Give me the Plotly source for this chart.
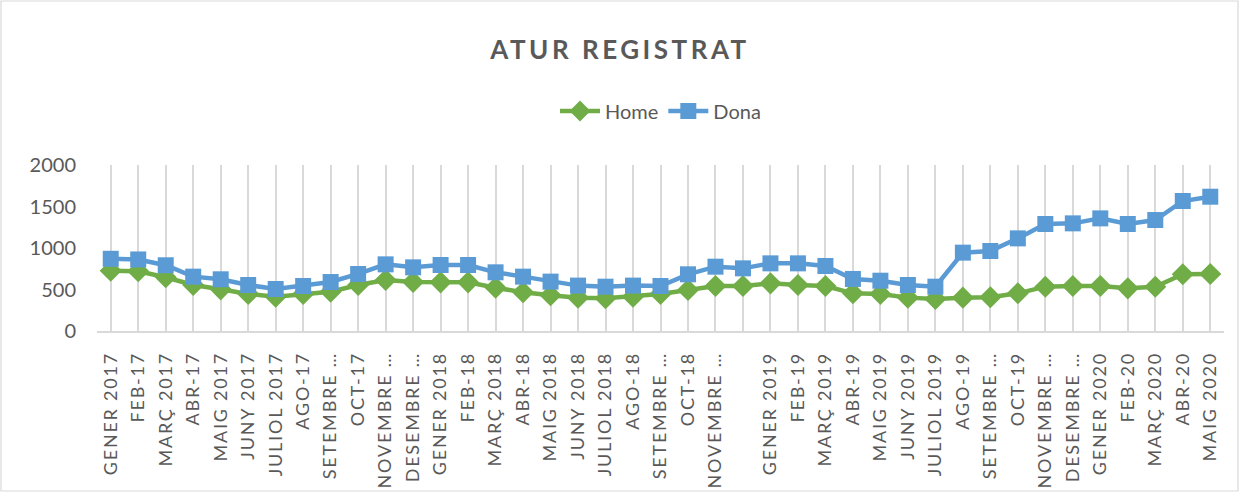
import plotly.graph_objects as go

months = [
    "GENER 2017", "FEB-17", "MARÇ 2017", "ABR-17", "MAIG 2017", "JUNY 2017", "JULIOL 2017",
    "AGO-17", "SETEMBRE …", "OCT-17", "NOVEMBRE …", "DESEMBRE …",
    "GENER 2018", "FEB-18", "MARÇ 2018", "ABR-18", "MAIG 2018", "JUNY 2018", "JULIOL 2018",
    "AGO-18", "SETEMBRE …", "OCT-18", "NOVEMBRE …", " ",
    "GENER 2019", "FEB-19", "MARÇ 2019", "ABR-19", "MAIG 2019", "JUNY 2019", "JULIOL 2019",
    "AGO-19", "SETEMBRE …", "OCT-19", "NOVEMBRE …", "DESEMBRE …",
    "GENER 2020", "FEB-20", "MARÇ 2020", "ABR-20", "MAIG 2020",
]

home = [
    725, 720, 647, 554, 502, 446, 414, 446, 474, 554, 614, 590,
    586, 586, 522, 466, 430, 402, 394, 414, 446, 494, 542, 542,
    574, 554, 542, 454, 446, 402, 386, 402, 406, 454, 534, 542,
    542, 514, 534, 683, 687,
]

dona = [
    870, 862, 792, 655, 623, 554, 506, 542, 590, 687, 803, 767,
    795, 795, 707, 655, 595, 547, 534, 547, 542, 683, 775, 755,
    815, 815, 783, 627, 606, 554, 534, 944, 964, 1116, 1289, 1297,
    1357, 1289, 1337, 1566, 1618,
]

x_idx = list(range(len(months)))
FONT = "Lato"
GREY = "#595959"

fig = go.Figure()
fig.add_trace(go.Scatter(
    x=x_idx, y=home, name="Home", mode="lines+markers",
    line=dict(color="#70AD47", width=4.5),
    marker=dict(symbol="diamond", size=17, color="#70AD47"),
))
fig.add_trace(go.Scatter(
    x=x_idx, y=dona, name="Dona", mode="lines+markers",
    line=dict(color="#5B9BD5", width=4.5),
    marker=dict(symbol="square", size=16, color="#5B9BD5"),
))

L, R, T, B = 97, 16, 165, 162
W, H = 1240, 493
pw, ph = W - L - R, H - T - B

fig.update_layout(
    width=W, height=H,
    margin=dict(l=L, r=R, t=T, b=B, autoexpand=False),
    paper_bgcolor="white", plot_bgcolor="white",
    font=dict(family=FONT, color=GREY, size=19),
    title=dict(text="<b>ATUR REGISTRAT</b>", x=0.5, xanchor="center",
               y=1 - 50 / H, yanchor="middle",
               font=dict(family=FONT, size=26, color=GREY)),
    legend=dict(orientation="h", x=0.5, xanchor="center",
                y=(H - B - 111) / ph, yanchor="middle",
                font=dict(family=FONT, size=20, color=GREY),
                itemwidth=40, traceorder="normal"),
    showlegend=True,
    xaxis=dict(
        tickmode="array", tickvals=x_idx, ticktext=months,
        range=[-0.5, len(months) - 0.5],
        tickangle=-90, tickson="boundaries", ticks="",
        showgrid=True, gridcolor="#d9d9d9", gridwidth=1.5,
        showline=True, linecolor="#d9d9d9", linewidth=1.5,
        tickfont=dict(family=FONT, size=18, color=GREY),
        ticklabelstandoff=12, automargin=False, zeroline=False,
    ),
    yaxis=dict(
        range=[0, 2000], dtick=500, showgrid=False, zeroline=False,
        showline=False, ticks="",
        tickfont=dict(family=FONT, size=20, color=GREY),
        ticklabelstandoff=20, automargin=False,
    ),
    shapes=[dict(
        type="rect", xref="paper", yref="paper",
        x0=(1 - L) / pw, x1=(W - 2 - L) / pw,
        y0=(H - B - (H - 2)) / ph, y1=(H - B - 1) / ph,
        line=dict(color="#d9d9d9", width=1.2), fillcolor="rgba(0,0,0,0)",
        layer="below",
    )],
)

js = """
var s=document.createElement('style');
s.innerHTML='html,body{margin:0;padding:0;overflow:hidden;} .xtick text{letter-spacing:1.8px;} .gtitle{letter-spacing:3.5px;}';
document.head.appendChild(s);
"""
fig.write_html("out.html", post_script=js, config={"displayModeBar": False})
